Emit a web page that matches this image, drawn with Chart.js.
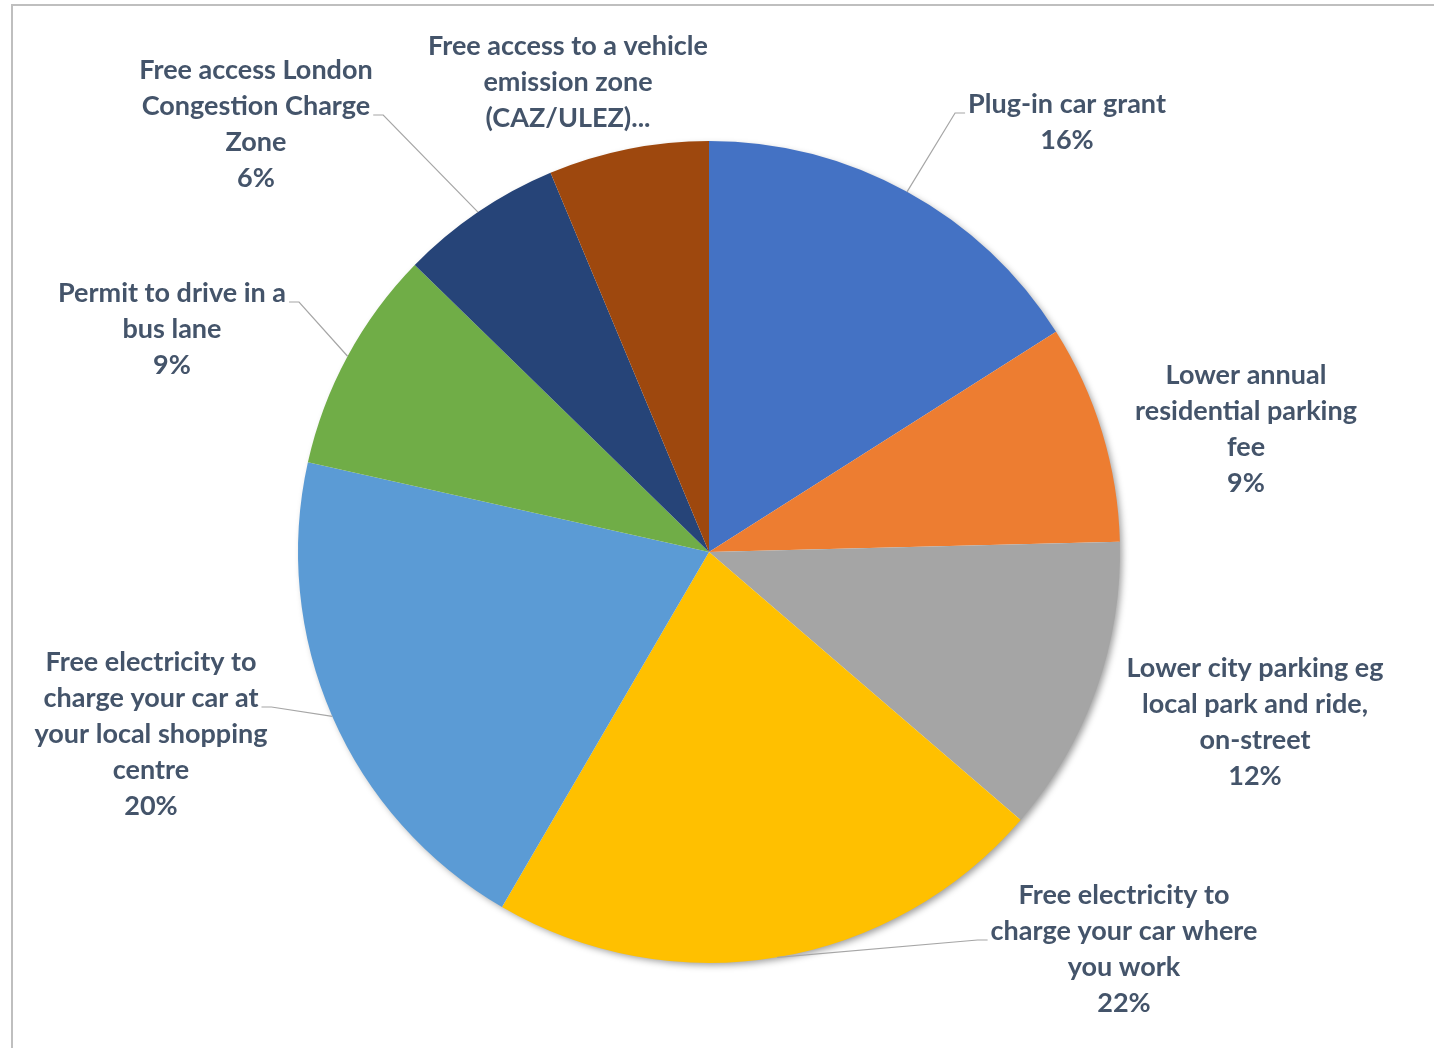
<!DOCTYPE html>
<html>
<head>
<meta charset="utf-8">
<script src="https://cdn.jsdelivr.net/npm/chart.js@4.4.0/dist/chart.umd.min.js"></script>
<style>
html, body { margin: 0; padding: 0; background: #fff; }
#wrap { width: 1434px; height: 1048px; }
</style>
</head>
<body>
<div id="wrap"><canvas id="pieChart" width="1434" height="1048"></canvas></div>
<script>
// Incentives for switching to an electric car
const categories = [
    'Plug-in car grant',
    'Lower annual\nresidential parking\nfee',
    'Lower city parking eg\nlocal park and ride,\non-street',
    'Free electricity to\ncharge your car where\nyou work',
    'Free electricity to\ncharge your car at\nyour local shopping\ncentre',
    'Permit to drive in a\nbus lane',
    'Free access London\nCongestion Charge\nZone',
    'Free access to a vehicle\nemission zone\n(CAZ/ULEZ)...'
];
const shares = [16.0, 8.6, 11.7, 22.1, 20.1, 8.8, 6.4, 6.3];
const sliceColors = ['#4472C4', '#ED7D31', '#A5A5A5', '#FFC000', '#5B9BD5', '#70AD47', '#264478', '#9E480E'];

// label block centre, offset from the pie centre; `hook` = line the leader attaches to
const labelLayout = [
    { dx: 358, dy: -430, hook: 0 },
    { dx: 537, dy: -123 },
    { dx: 546, dy: 170 },
    { dx: 415, dy: 397, hook: 1 },
    { dx: -558, dy: 182, hook: 1 },
    { dx: -537, dy: -223, hook: 0 },
    { dx: -453, dy: -428, hook: 1 },
    { dx: -141, dy: -470, noPct: true }
];

const LABEL_FONT = 'bold 27px Lato';
const LABEL_COLOR = '#44546A';
const LINE_H = 36;

const frame = {
    id: 'frame',
    beforeDraw(chart) {
        const ctx = chart.ctx;
        ctx.save();
        ctx.fillStyle = '#fff';
        ctx.fillRect(0, 0, chart.width, chart.height);
        ctx.strokeStyle = '#BFBFBF';
        ctx.lineWidth = 2;
        ctx.strokeRect(12, 5, 2000, 2000);
        ctx.restore();
    },
    beforeDatasetsDraw(chart) {
        // soft drop shadow under the whole pie
        const arc = chart.getDatasetMeta(0).data[0];
        const { x, y, outerRadius } = arc.getProps(['x', 'y', 'outerRadius'], true);
        const ctx = chart.ctx;
        ctx.save();
        ctx.shadowColor = 'rgba(0,0,0,0.4)';
        ctx.shadowBlur = 7;
        ctx.shadowOffsetX = 3;
        ctx.shadowOffsetY = 3;
        ctx.fillStyle = '#fff';
        ctx.beginPath();
        ctx.arc(x, y, outerRadius - 1, 0, Math.PI * 2);
        ctx.fill();
        ctx.restore();
    }
};

const outsideLabels = {
    id: 'outsideLabels',
    afterDatasetsDraw(chart) {
        const ctx = chart.ctx;
        const data = chart.data.datasets[0].data;
        const total = data.reduce((a, b) => a + b, 0);
        ctx.save();
        ctx.font = LABEL_FONT;
        ctx.fillStyle = LABEL_COLOR;
        ctx.textAlign = 'center';
        ctx.textBaseline = 'middle';
        chart.getDatasetMeta(0).data.forEach((arc, i) => {
            const p = arc.getProps(['x', 'y', 'startAngle', 'endAngle', 'outerRadius'], true);
            const lay = labelLayout[i];
            const lines = chart.data.labels[i].split('\n');
            if (!lay.noPct) lines.push(Math.round(data[i] / total * 100) + '%');
            const lx = p.x + lay.dx;
            const top = p.y + lay.dy - (lines.length - 1) * LINE_H / 2;
            lines.forEach((t, k) => ctx.fillText(t, lx, top + k * LINE_H));

            if (lay.hook === undefined) return;
            const mid = (p.startAngle + p.endAngle) / 2;
            const ax = p.x + Math.cos(mid) * p.outerRadius;
            const ay = p.y + Math.sin(mid) * p.outerRadius;
            const w = ctx.measureText(lines[lay.hook]).width;
            const hy = top + lay.hook * LINE_H + 9;
            const right = lx > ax;
            const ex = right ? lx - w / 2 - 3 : lx + w / 2 + 3;
            const bx = right ? ex - 10 : ex + 10;
            ctx.save();
            ctx.strokeStyle = '#A6A6A6';
            ctx.lineWidth = 1.2;
            ctx.beginPath();
            ctx.moveTo(ax, ay);
            ctx.lineTo(bx, hy);
            ctx.lineTo(ex, hy);
            ctx.stroke();
            ctx.restore();
        });
        ctx.restore();
    }
};

const pieCtx = document.getElementById('pieChart').getContext('2d');
new Chart(pieCtx, {
    type: 'pie',
    data: {
        labels: categories,
        datasets: [{
            data: shares,
            backgroundColor: sliceColors,
            borderWidth: 0
        }]
    },
    options: {
        responsive: false,
        devicePixelRatio: 1,
        animation: false,
        layout: { padding: { left: 298, right: 314, top: 141, bottom: 85 } },
        plugins: {
            legend: { display: false },
            tooltip: { enabled: false }
        }
    },
    plugins: [frame, outsideLabels]
});
</script>
</body>
</html>
